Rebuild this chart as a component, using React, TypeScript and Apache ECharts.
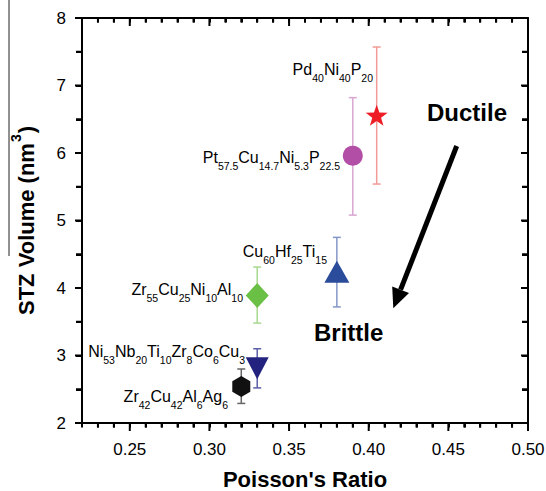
import React, { useEffect, useRef } from "react";
import * as echarts from "echarts";

// ---- data ----
const materials = [
  [["Pd", "40"], ["Ni", "40"], ["P", "20"]],
  [["Pt", "57.5"], ["Cu", "14.7"], ["Ni", "5.3"], ["P", "22.5"]],
  [["Cu", "60"], ["Hf", "25"], ["Ti", "15"]],
  [["Zr", "55"], ["Cu", "25"], ["Ni", "10"], ["Al", "10"]],
  [["Ni", "53"], ["Nb", "20"], ["Ti", "10"], ["Zr", "8"], ["Co", "6"], ["Cu", "3"]],
  [["Zr", "42"], ["Cu", "42"], ["Al", "6"], ["Ag", "6"]],
];
const poissonRatio = [0.405, 0.39, 0.38, 0.33, 0.33, 0.32];
const stzVolume = [6.56, 5.96, 4.24, 3.89, 2.81, 2.54];
const errLow = [5.54, 5.08, 3.72, 3.48, 2.52, 2.29];
const errHigh = [7.57, 6.82, 4.75, 4.31, 3.1, 2.8];

// ---- axes ----
const X_MIN = 0.22, X_MAX = 0.5, Y_MIN = 2, Y_MAX = 8;
const xLabelValues = [0.25, 0.3, 0.35, 0.4, 0.45, 0.5];
const xMinorTickValues = [
  0.23, 0.24, 0.26, 0.27, 0.28, 0.29, 0.31, 0.32, 0.33, 0.34, 0.36,
  0.37, 0.38, 0.39, 0.41, 0.42, 0.43, 0.44, 0.46, 0.47, 0.48, 0.49,
];
const yLabelValues = [2, 3, 4, 5, 6, 7, 8];
const yMinorTickValues = [2.5, 3.5, 4.5, 5.5, 6.5, 7.5];

// ---- layout / styles ----
const W = 546, H = 491;
const GRID = { left: 82, right: 18, top: 18, bottom: 68 };
const FONT = "'Liberation Sans', Arial, Helvetica, sans-serif";
const STAR = "path://M0,-10 L2.35,-3.24 L9.51,-3.09 L3.8,1.24 L5.88,8.09 L0,4 L-5.88,8.09 L-3.8,1.24 L-9.51,-3.09 L-2.35,-3.24 Z";
const HEX = "path://M0,-10 L8.66,-5 L8.66,5 L0,10 L-8.66,5 L-8.66,-5 Z";
const symbols = [STAR, "circle", "triangle", "diamond", "triangle", HEX];
const symbolSizes: any[] = [[22, 21], 20, [25, 22], [23, 25], [23, 22], [18, 21]];
const symbolRotates = [0, 0, 0, 0, 180, 0];
const markColors = ["#ee1c25", "#b24ea5", "#2b4c9b", "#6abf45", "#23237f", "#111111"];
const barColors = ["#f29a95", "#d9a6d3", "#8595c8", "#a9d88f", "#5d5fa8", "#666666"];
const labelAnchors = [
  [373, 70],
  [340, 158],
  [327, 252],
  [243, 290],
  [245, 352],
  [228, 397],
];

const formula = (parts: string[][]) =>
  parts.map(([el, n]) => `{n|${el}}{s|${n}}`).join("");
const isIn = (arr: number[], v: number) => arr.some((m) => Math.abs(m - v) < 1e-9);

// tick marks as small rect symbols placed on the axes through the chart's scales
const tickSeries = (data: number[][], size: number[], offset: number[]) => ({
  type: "scatter",
  xAxisIndex: 0,
  yAxisIndex: 0,
  z: 6,
  silent: true,
  clip: false,
  symbol: "rect",
  symbolSize: size,
  symbolOffset: offset,
  itemStyle: { color: "#000", opacity: 1 },
  data,
});

export default function App() {
  const ref = useRef<HTMLDivElement>(null);
  useEffect(() => {
    document.body.style.margin = "0";
    const chart = echarts.init(ref.current!, null, { renderer: "svg" });
    const axisLine = { show: true, onZero: false, lineStyle: { color: "#000", width: 2 } };
    const tickLine = { color: "#000", width: 2 };
    const option: any = {
      animation: false,
      backgroundColor: "#fff",
      grid: { ...GRID, containLabel: false, outerBoundsMode: "none" },
      xAxis: [
        {
          type: "value",
          min: X_MIN,
          max: X_MAX,
          position: "bottom",
          interval: 0.01,
          axisLine,
          axisTick: { show: true, inside: false, length: 4.5, lineStyle: tickLine },
          axisLabel: {
            margin: 18,
            fontSize: 17,
            color: "#000",
            fontFamily: FONT,
            formatter: (v: number) => (isIn(xLabelValues, v) ? v.toFixed(2) : ""),
          },
          splitLine: { show: false },
          name: "Poisson's Ratio",
          nameLocation: "middle",
          nameGap: 45,
          nameTextStyle: { fontSize: 22, fontWeight: "bold", color: "#000", fontFamily: FONT },
        },
        {
          type: "value",
          min: X_MIN,
          max: X_MAX,
          position: "top",
          interval: 0.01,
          axisLine,
          axisTick: { show: true, inside: true, length: 4.5, lineStyle: tickLine },
          axisLabel: { show: false },
          splitLine: { show: false },
        },
      ],
      yAxis: [
        {
          type: "value",
          min: Y_MIN,
          max: Y_MAX,
          interval: 0.5,
          position: "left",
          axisLine,
          axisTick: { show: true, inside: false, length: 6, lineStyle: tickLine },
          axisLabel: {
            margin: 16,
            fontSize: 17,
            color: "#000",
            fontFamily: FONT,
            formatter: (v: number) => (isIn(yLabelValues, v) ? String(v) : ""),
          },
          splitLine: { show: false },
          name: "{b|STZ Volume (nm}{sup|3}{b|)}",
          nameLocation: "middle",
          nameGap: 45,
          nameTextStyle: {
            rich: {
              b: { fontSize: 22, fontWeight: "bold", color: "#000", fontFamily: FONT, lineHeight: 26, verticalAlign: "bottom" },
              sup: { fontSize: 14, fontWeight: "bold", color: "#000", fontFamily: FONT, lineHeight: 14, padding: [0, 1, 14, 1], verticalAlign: "bottom" },
            },
          },
        },
        {
          type: "value",
          min: Y_MIN,
          max: Y_MAX,
          interval: 0.5,
          position: "right",
          axisLine,
          axisTick: { show: true, inside: true, length: 6, lineStyle: tickLine },
          axisLabel: { show: false },
          splitLine: { show: false },
        },
      ],
      series: [
        // bottom ticks (outward) and top ticks (inward)
        tickSeries(xLabelValues.map((v) => [v, Y_MIN]), [2, 8], [0, 4]),
        tickSeries(xMinorTickValues.map((v) => [v, Y_MIN]), [2, 4.5], [0, 2.25]),
        tickSeries(xLabelValues.map((v) => [v, Y_MAX]), [2, 8], [0, 4]),
        tickSeries(xMinorTickValues.map((v) => [v, Y_MAX]), [2, 4.5], [0, 2.25]),
        // left ticks (outward) and right ticks (inward)
        tickSeries(yLabelValues.map((v) => [X_MIN, v]), [7, 2], [-3.5, 0]),
        tickSeries(yMinorTickValues.map((v) => [X_MIN, v]), [6, 2], [-3, 0]),
        tickSeries(yLabelValues.map((v) => [X_MAX, v]), [7, 2], [-3.5, 0]),
        tickSeries(yMinorTickValues.map((v) => [X_MAX, v]), [6, 2], [-3, 0]),
        // error bars
        {
          type: "custom",
          xAxisIndex: 0,
          yAxisIndex: 0,
          z: 2,
          encode: { x: 0, y: [1, 2] },
          data: poissonRatio.map((x, i) => [x, errLow[i], errHigh[i]]),
          renderItem: (params: any, api: any) => {
            const x = api.value(0);
            const lo = api.coord([x, api.value(1)]);
            const hi = api.coord([x, api.value(2)]);
            const c = barColors[params.dataIndex];
            const w = 4;
            const st = { stroke: c, lineWidth: 1.5 };
            return {
              type: "group",
              children: [
                { type: "line", shape: { x1: lo[0], y1: lo[1], x2: hi[0], y2: hi[1] }, style: st },
                { type: "line", shape: { x1: lo[0] - w, y1: lo[1], x2: lo[0] + w, y2: lo[1] }, style: st },
                { type: "line", shape: { x1: hi[0] - w, y1: hi[1], x2: hi[0] + w, y2: hi[1] }, style: st },
              ],
            };
          },
        },
        // markers
        {
          type: "scatter",
          xAxisIndex: 0,
          yAxisIndex: 0,
          z: 3,
          data: poissonRatio.map((x, i) => ({
            value: [x, stzVolume[i]],
            symbol: symbols[i],
            symbolSize: symbolSizes[i],
            symbolRotate: symbolRotates[i],
            itemStyle: { color: markColors[i], opacity: 1 },
          })),
        },
      ],
      graphic: [
        ...materials.map((m, i) => ({
          type: "text",
          x: labelAnchors[i][0],
          y: labelAnchors[i][1],
          style: {
            text: formula(m),
            align: "right",
            verticalAlign: "middle",
            rich: {
              n: { fontSize: 16, fontFamily: FONT, fill: "#000", lineHeight: 18, verticalAlign: "top" },
              s: { fontSize: 10.5, fontFamily: FONT, fill: "#000", lineHeight: 10, padding: [11, 0, 0, 0], verticalAlign: "top" },
            },
          },
        })),
        {
          type: "text",
          x: 427,
          y: 112,
          style: { text: "Ductile", font: `bold 24px ${FONT}`, fill: "#000", align: "left", verticalAlign: "middle" },
        },
        {
          type: "text",
          x: 314,
          y: 332,
          style: { text: "Brittle", font: `bold 24px ${FONT}`, fill: "#000", align: "left", verticalAlign: "middle" },
        },
        {
          type: "line",
          shape: { x1: 456.7, y1: 146, x2: 400.6, y2: 289.7 },
          style: { stroke: "#000", lineWidth: 5 },
        },
        {
          type: "polygon",
          shape: { points: [[393.3, 308.3], [409, 293], [392.2, 286.4]] },
          style: { fill: "#000" },
        },
        {
          type: "line",
          shape: { x1: 9, y1: 0, x2: 9, y2: 256 },
          style: { stroke: "#222", lineWidth: 1 },
        },
      ],
    };
    chart.setOption(option);
    return () => chart.dispose();
  }, []);
  return <div ref={ref} style={{ width: W, height: H }} />;
}
